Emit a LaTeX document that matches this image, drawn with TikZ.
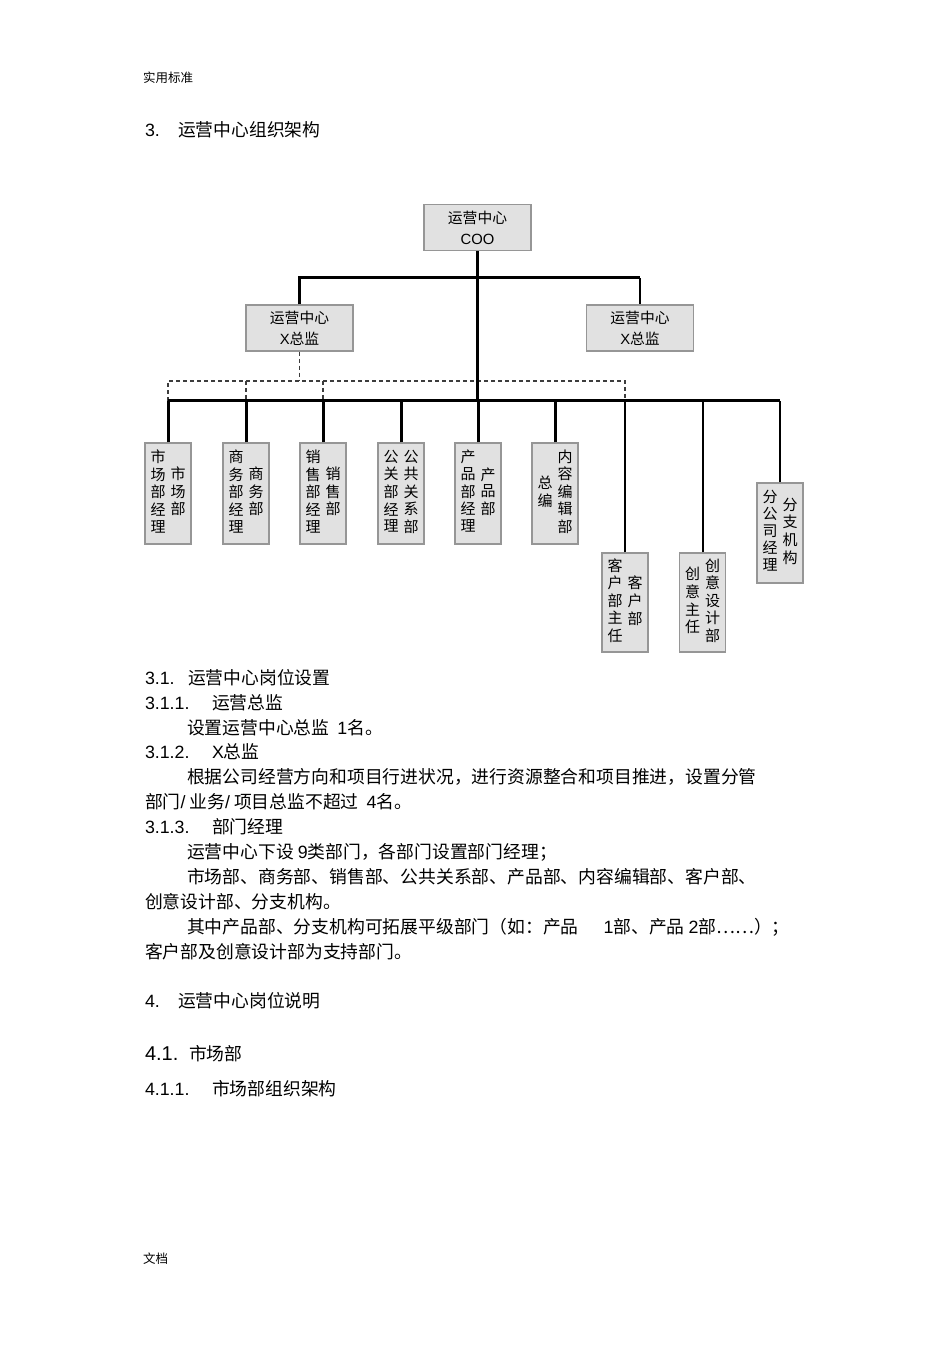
\documentclass[tikz,border=0pt]{standalone}
\usepackage{fontspec}
\setmainfont{Noto Sans CJK SC}
\newfontfamily\latin{Liberation Sans}
\newcommand\colv[1]{\begin{tabular}{@{}c@{}}#1\end{tabular}}

\begin{document}
\begin{tikzpicture}[x=1pt,y=1pt,
  txt/.style={anchor=base west,inner sep=0pt,outer sep=0pt,font=\fontsize{17.8}{20}\selectfont},
  orgbox/.style={draw=boxLine,fill=boxFill,line width=1.2pt,inner sep=0pt,minimum width=107pt,minimum height=46pt,align=center,font=\fontsize{14.8}{21}\selectfont},
  deptbox/.style={draw=boxLine,fill=boxFill,line width=1.2pt,inner sep=0pt,minimum width=46pt,minimum height=101pt,font=\fontsize{15}{16.6}\selectfont},
  thickln/.style={draw=black,line width=3pt},
  thinln/.style={draw=black,line width=2pt},
  dashln/.style={draw=dashColor,line width=1.5pt,dash pattern=on 4pt off 3pt}]
\definecolor{fillColor}{RGB}{255,255,255}
\definecolor{boxFill}{RGB}{225,225,225}
\definecolor{boxLine}{RGB}{150,150,150}
\definecolor{dashColor}{RGB}{60,60,60}
\path[use as bounding box,fill=fillColor] (0,0) rectangle (950,1345);

% page text
\node[txt,font=\fontsize{12.5}{15}\selectfont] (hdr) at (143,1262.5) {实用标准};
\node[txt] (s3n) at (145,1208.5) {\latin 3.};
\node[txt] (s3) at (178,1208.5) {运营中心组织架构};

% org chart boxes
\node[orgbox] (coo) at (477.5,1117.5) {运营中心\\{\latin COO}};
\node[orgbox] (xl) at (299.5,1017) {运营中心\\{\latin X}总监};
\node[orgbox] (xr) at (640,1017) {运营中心\\{\latin X}总监};

\node[deptbox] (sc) at (168,851.5) {\colv{市\\场\\部\\经\\理}\hspace{5pt}\colv{市\\场\\部}};
\node[deptbox] (sw) at (246,851.5) {\colv{商\\务\\部\\经\\理}\hspace{5pt}\colv{商\\务\\部}};
\node[deptbox] (xs) at (323,851.5) {\colv{销\\售\\部\\经\\理}\hspace{5pt}\colv{销\\售\\部}};
\node[deptbox] (gg) at (401,851.5) {\colv{公\\关\\部\\经\\理}\hspace{5pt}\colv{公\\共\\关\\系\\部}};
\node[deptbox] (cp) at (478,851.5) {\colv{产\\品\\部\\经\\理}\hspace{5pt}\colv{产\\品\\部}};
\node[deptbox] (nr) at (555,851.5) {\colv{总\\编}\hspace{5pt}\colv{内\\容\\编\\辑\\部}};
\node[deptbox,minimum height=99pt] (kh) at (625,742.5) {\colv{客\\户\\部\\主\\任}\hspace{5pt}\colv{客\\户\\部}};
\node[deptbox,minimum height=99pt] (cy) at (702.5,742.5) {\colv{创\\意\\主\\任}\hspace{5pt}\colv{创\\意\\设\\计\\部}};
\node[deptbox,minimum height=100pt] (fz) at (780,812) {\colv{分\\公\\司\\经\\理}\hspace{5pt}\colv{分\\支\\机\\构}};

\coordinate (topbus) at (0,1067);
\coordinate (dash) at (0,964);
\coordinate (busL) at (168,944);
\coordinate (busR) at (780,944);

% dashed reporting lines
\draw[dashln] (xl.south) -- (xl.south |- dash);
\draw[dashln] (sc.north |- busL) -- (sc.north |- dash) -- (kh.north |- dash) -- (kh.north |- busL);
\draw[dashln] (sw.north |- dash) -- (sw.north |- busL);
\draw[dashln] (xs.north |- dash) -- (xs.north |- busL);

% solid lines
\draw[thickln] (xl.north) -- (xl.north |- topbus) -- (xr.north |- topbus);
\draw[thinln] (xr.north |- topbus) -- (xr.north);
\draw[thickln] (coo.south) -- (coo.south |- busL);
\draw[thickln] (busL) -- (busR);
\foreach \d in {sc,sw,xs,gg,cp,nr}
  \draw[thickln] (\d.north) -- (\d.north |- busL);
\foreach \d in {kh,cy,fz}
  \draw[thinln] (\d.north) -- (\d.north |- busL);

\node[txt] (s31n) at (145,660.5) {\latin 3.1.};
\node[txt] (s31) at (188,660.5) {运营中心岗位设置};
\node[txt] (s311n) at (145,635.5) {\latin 3.1.1.};
\node[txt] (s311) at (212,635.5) {运营总监};
\node[txt] (p1) at (187,610.5) {设置运营中心总监\ \ {\latin 1}名。};
\node[txt] (s312n) at (145,586.5) {\latin 3.1.2.};
\node[txt] (s312) at (212,586.5) {{\latin X}总监};
\node[txt] (p2a) at (187,561.5) {根据公司经营方向和项目行进状况，进行资源整合和项目推进，设置分管};
\node[txt] (p2b) at (145,536.5) {部门{\latin /} 业务{\latin /} 项目总监不超过\ \ {\latin 4}名。};
\node[txt] (s313n) at (145,511.5) {\latin 3.1.3.};
\node[txt] (s313) at (212,511.5) {部门经理};
\node[txt] (p3) at (187,486.5) {运营中心下设 {\latin 9}类部门，各部门设置部门经理；};
\node[txt] (p4a) at (187,461.5) {市场部、商务部、销售部、公共关系部、产品部、内容编辑部、客户部、};
\node[txt] (p4b) at (145,436.5) {创意设计部、分支机构。};
\node[txt] (p5a) at (187,411.5) {其中产品部、分支机构可拓展平级部门（如：产品\hspace{25pt}{\latin 1}部、产品 {\latin 2}部……）；};
\node[txt] (p5b) at (145,386.5) {客户部及创意设计部为支持部门。};
\node[txt] (s4n) at (145,337.5) {\latin 4.};
\node[txt] (s4) at (178,337.5) {运营中心岗位说明};
\node[txt] (s41n) at (145,284.5) {\latin\fontsize{20}{24}\selectfont 4.1.};
\node[txt] (s41) at (189,284.5) {市场部};
\node[txt] (s411n) at (145,249.5) {\latin 4.1.1.};
\node[txt] (s411) at (212,249.5) {市场部组织架构};
\node[txt,font=\fontsize{12.5}{15}\selectfont] (ftr) at (143,81.5) {文档};
\end{tikzpicture}
\end{document}
